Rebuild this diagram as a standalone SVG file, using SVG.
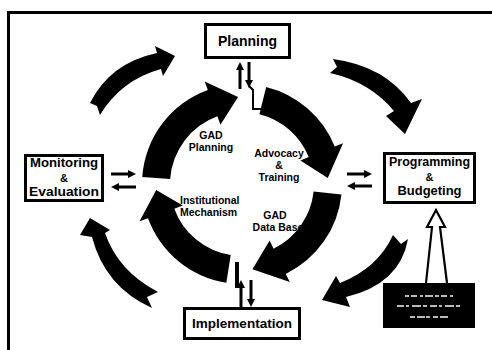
<svg xmlns="http://www.w3.org/2000/svg" width="492" height="350" viewBox="0 0 492 350">
  <defs>
    <style>
      .frame { fill: none; stroke: #000; stroke-width: 3; }
      .box { fill: #fff; stroke: #000; stroke-width: 3; }
      .title { font-family: "Liberation Sans", Arial, sans-serif; font-weight: bold; fill: #000; text-anchor: middle; }
      .label { font-family: "Liberation Sans", Arial, sans-serif; font-weight: bold; font-size: 10.5px; fill: #000; }
      .band { fill: #000; }
      .link { fill: none; stroke: #000; stroke-width: 3; marker-end: url(#head); }
      .step { fill: none; stroke: #000; stroke-width: 2; }
      .hollow { fill: none; stroke: #000; stroke-width: 2.2; stroke-linejoin: miter; }
    </style>
    <marker id="head" viewBox="0 0 10 10" refX="3" refY="5" markerWidth="8" markerHeight="8" markerUnits="userSpaceOnUse" orient="auto">
      <path d="M0 0 L10 5 L0 10 Z" fill="#000"/>
    </marker>
  </defs>

  <rect width="492" height="350" fill="#fff"/>
  <rect class="frame" x="8.5" y="12.5" width="490" height="345"/>

  <!-- inner cycle labels (drawn first so the bands overlap them) -->
  <g id="inner-labels">
    <text class="label" x="211" y="139" text-anchor="middle">GAD</text>
    <text class="label" x="211" y="151" text-anchor="middle">Planning</text>
    <text class="label" x="279" y="157" text-anchor="middle">Advocacy</text>
    <text class="label" x="279" y="169" text-anchor="middle">&amp;</text>
    <text class="label" x="279" y="181" text-anchor="middle">Training</text>
    <text class="label" x="180" y="204">Institutional</text>
    <text class="label" x="180" y="216">Mechanism</text>
    <text class="label" x="275" y="219" text-anchor="middle">GAD</text>
    <text class="label" x="278" y="231" text-anchor="middle">Data Base</text>
  </g>

  <g id="connectors">
    <!-- inner ring: four thick clockwise arc arrows around (242,184) -->
    <path id="gad-planning" class="band" d="M142.24 177.02 A100 100 0 0 1 207.80 90.03 L204.72 81.57 L238.05 97.09 L220.45 124.80 L217.37 116.34 A72 72 0 0 0 170.18 178.98 Z"/>
    <path id="advocacy-training" class="band" d="M266.19 86.97 A100 100 0 0 1 334.72 146.54 L343.06 143.17 L327.79 178.00 L300.41 160.40 L308.76 157.03 A72 72 0 0 0 259.42 114.14 Z"/>
    <path id="gad-data-base" class="band" d="M341.45 194.45 A100 100 0 0 1 285.84 273.88 L289.78 281.97 L252.48 269.36 L269.62 240.62 L273.56 248.71 A72 72 0 0 0 313.61 191.53 Z"/>
    <path id="institutional-mechanism" class="band" d="M226.36 282.77 A100 100 0 0 1 148.03 218.20 L139.57 221.28 L156.21 190.00 L182.80 205.55 L174.34 208.63 A72 72 0 0 0 230.74 255.11 Z"/>

    <!-- outer ring: four tapered arrows with notched tails -->
    <path id="outer-top-left" class="band" d="M175 56 L163 76 L161 69 Q121 80 100 115 L97 106 L90 103 Q110 63 157 53 L155 46 Z"/>
    <path id="outer-top-right" class="band" d="M405 134 L386 116 L394 111 Q370 82 330 73 L337 67 L333 59 Q385 66 411 103 L422 99 Z"/>
    <path id="outer-bottom-right" class="band" d="M322 300 L336 276 L340 283 Q378 268 393 235 L401 244 L408 239 Q400 284 346 297 L350 307 Z"/>
    <path id="outer-bottom-left" class="band" d="M90 218 L110 230 L105 233 Q118 271 158 292 L147 297 L152 308 Q105 287 92 237 L80 235 Z"/>

    <!-- two-way links between each stage and the inner ring -->
    <line class="link" x1="240" y1="89" x2="240" y2="67.6"/>
    <line class="link" x1="249" y1="62" x2="249" y2="82.4"/>
    <polyline class="step" points="249,86 253,90 253,109 264,109"/>

    <line class="link" x1="347" y1="174" x2="366.4" y2="174"/>
    <line class="link" x1="372" y1="186" x2="352.6" y2="186"/>

    <line class="link" x1="111" y1="174" x2="130.4" y2="174"/>
    <line class="link" x1="136" y1="187" x2="116.6" y2="187"/>

    <line x1="237" y1="262" x2="237" y2="288" stroke="#000" stroke-width="4"/>
    <line class="link" x1="241" y1="308" x2="241" y2="285.6"/>
    <line class="link" x1="251" y1="280" x2="251" y2="301.4"/>

    <!-- hollow arrow from the dark panel up to Programming & Budgeting -->
    <path class="hollow" d="M426 283 L432 227 L427 227 L436 210 L445 227 L440 227 L447 283"/>
  </g>

  <g id="planning">
    <rect class="box" x="205.5" y="24.5" width="84" height="33"/>
    <text class="title" x="247.5" y="46" font-size="14">Planning</text>
  </g>

  <g id="monitoring-evaluation">
    <rect class="box" x="25.5" y="155.5" width="77" height="45"/>
    <text class="title" x="64" y="167" font-size="13" textLength="68" lengthAdjust="spacingAndGlyphs">Monitoring</text>
    <text class="title" x="64" y="182" font-size="11">&amp;</text>
    <text class="title" x="64" y="196" font-size="13" textLength="70" lengthAdjust="spacingAndGlyphs">Evaluation</text>
  </g>

  <g id="programming-budgeting">
    <rect class="box" x="384.5" y="153.5" width="90" height="49"/>
    <text class="title" x="429.5" y="166" font-size="13" textLength="81" lengthAdjust="spacingAndGlyphs">Programming</text>
    <text class="title" x="429.5" y="181" font-size="11">&amp;</text>
    <text class="title" x="429.5" y="195" font-size="13" textLength="64" lengthAdjust="spacingAndGlyphs">Budgeting</text>
  </g>

  <g id="implementation">
    <rect class="box" x="184.5" y="308.5" width="115" height="30"/>
    <text class="title" x="242" y="328" font-size="13.5" textLength="100" lengthAdjust="spacingAndGlyphs">Implementation</text>
  </g>

  <g id="dark-panel">
    <rect x="383" y="283" width="92" height="45" fill="#000"/>
    <g fill="none" stroke="#bbb" stroke-width="2">
      <line x1="405" y1="296" x2="455" y2="296" stroke-dasharray="4 2 6 3 3 2 8 2"/>
      <line x1="397" y1="306" x2="462" y2="306" stroke-dasharray="7 2 3 3 9 2 4 3"/>
      <line x1="410" y1="317" x2="448" y2="317" stroke-dasharray="5 2 8 1 4 3"/>
    </g>
  </g>
</svg>
